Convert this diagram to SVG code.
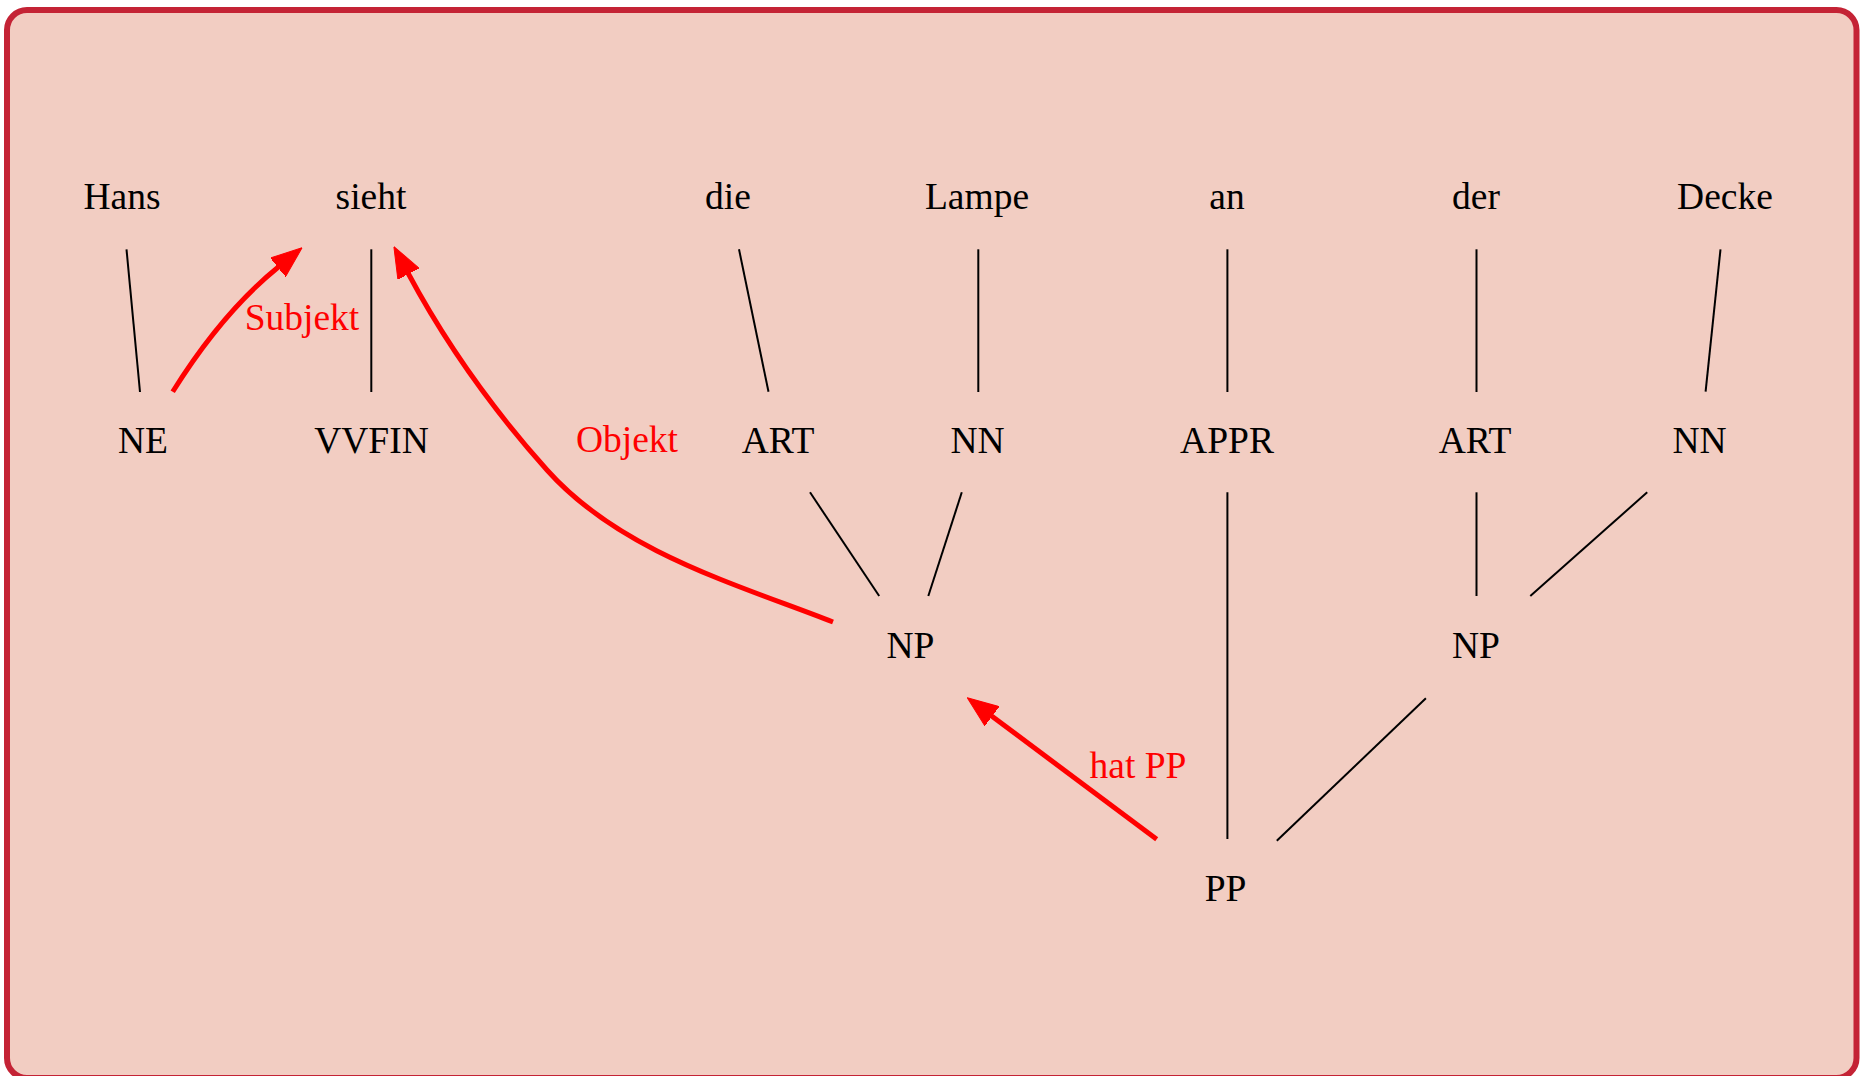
<svg xmlns="http://www.w3.org/2000/svg" width="1860" height="1076" viewBox="0 0 1860 1076">
<style>
.t{font-family:"Liberation Serif","Times New Roman",serif;font-size:37.5px;fill:#000;text-anchor:middle}
.l{font-family:"Liberation Serif","Times New Roman",serif;font-size:37.5px;fill:#ff0000;text-anchor:middle}
.e{stroke:#000;stroke-width:2;fill:none}
.r{stroke:#ff0000;stroke-width:5;fill:none;marker-end:url(#ah)}
</style>
<defs>
<marker id="ah" markerUnits="userSpaceOnUse" viewBox="0 0 31 24" refX="1" refY="12" markerWidth="31" markerHeight="24" orient="auto">
<path d="M0,0 L31,12 L0,24 z" fill="#ff0000" stroke="#ff0000" stroke-width="1" stroke-linejoin="round"/>
</marker>
</defs>
<rect x="7" y="10" width="1849.5" height="1068" rx="20" ry="20" fill="#f2cdc2" stroke="#c42335" stroke-width="6"/>
<g id="connectors">
<line class="e" x1="126.5" y1="249.3" x2="140" y2="392"/>
<line class="e" x1="371.3" y1="249.3" x2="371.3" y2="392"/>
<line class="e" x1="739" y1="249.3" x2="768.5" y2="391.7"/>
<line class="e" x1="978.3" y1="249.3" x2="978.3" y2="392"/>
<line class="e" x1="1227.4" y1="249.3" x2="1227.4" y2="392"/>
<line class="e" x1="1476.5" y1="249.3" x2="1476.5" y2="392"/>
<line class="e" x1="1720.5" y1="249.3" x2="1705.6" y2="391.7"/>
<line class="e" x1="810" y1="492.3" x2="879.2" y2="596"/>
<line class="e" x1="961.8" y1="492.3" x2="928.3" y2="596"/>
<line class="e" x1="1227.4" y1="492.3" x2="1227.4" y2="839"/>
<line class="e" x1="1476.5" y1="492.3" x2="1476.5" y2="596"/>
<line class="e" x1="1647.2" y1="492.3" x2="1530.3" y2="596"/>
<line class="e" x1="1425.9" y1="698.3" x2="1276.8" y2="840.7"/>
<path class="r" d="M172.7,391.7 C200,348 235,302 278.7,266.7"/>
<path class="r" d="M833,622 C732.6,583 619.4,551 547,470 C493.4,410 445.6,343.4 408,273"/>
<path class="r" d="M1156.7,839.3 L991.3,715.7"/>
<text class="l" x="302" y="330">Subjekt</text>
<text class="l" x="627" y="451.7">Objekt</text>
<text class="l" x="1138" y="778">hat PP</text>
</g>
<g id="w-hans"><text class="t" x="122" y="209">Hans</text></g>
<g id="w-sieht"><text class="t" x="371" y="209">sieht</text></g>
<g id="w-die"><text class="t" x="728" y="209">die</text></g>
<g id="w-lampe"><text class="t" x="977" y="209">Lampe</text></g>
<g id="w-an"><text class="t" x="1227" y="209">an</text></g>
<g id="w-der"><text class="t" x="1476" y="209">der</text></g>
<g id="w-decke"><text class="t" x="1725" y="209">Decke</text></g>
<g id="p-ne"><text class="t" x="143" y="453">NE</text></g>
<g id="p-vvfin"><text class="t" x="371.5" y="453">VVFIN</text></g>
<g id="p-art1"><text class="t" x="778" y="453">ART</text></g>
<g id="p-nn1"><text class="t" x="977.5" y="453">NN</text></g>
<g id="p-appr"><text class="t" x="1227" y="453">APPR</text></g>
<g id="p-art2"><text class="t" x="1475" y="453">ART</text></g>
<g id="p-nn2"><text class="t" x="1699.5" y="453">NN</text></g>
<g id="np1"><text class="t" x="910.5" y="658">NP</text></g>
<g id="np2"><text class="t" x="1476" y="658">NP</text></g>
<g id="pp"><text class="t" x="1225.5" y="901">PP</text></g>
</svg>
